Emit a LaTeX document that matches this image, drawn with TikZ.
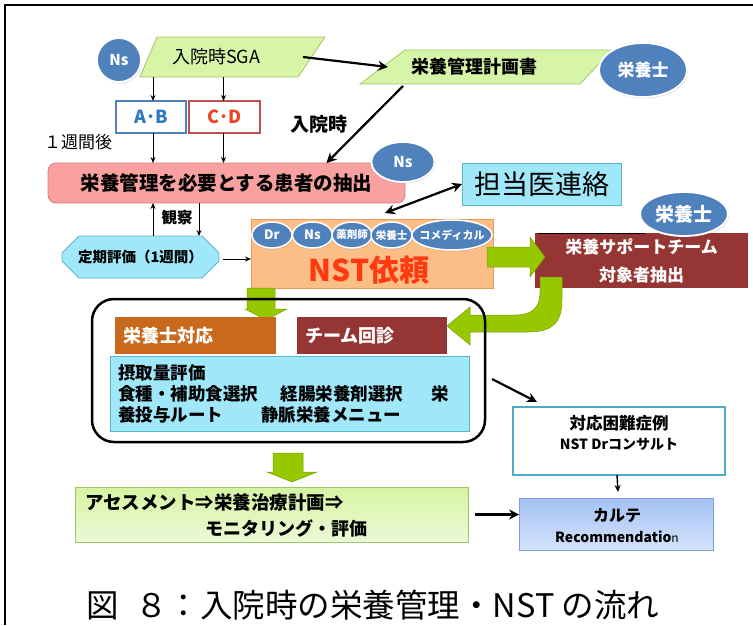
\documentclass[tikz,border=0pt]{standalone}
\usepackage{fontspec}
\setmainfont{Noto Sans CJK JP}
\usetikzlibrary{shapes.geometric,shapes.misc,shadows,arrows.meta}
\newcommand{\myfs}[1]{\fontsize{#1}{#1}\selectfont}
\definecolor{nsblue}{HTML}{4F81BD}
\definecolor{sgafill}{HTML}{D7F5A7}
\definecolor{sgaline}{HTML}{A3C46C}
\definecolor{pinkfill}{HTML}{F9A0A0}
\definecolor{pinkline}{HTML}{E07B7B}
\definecolor{cyanfill}{HTML}{A0E7FA}
\definecolor{cyanline}{HTML}{5BB5CC}
\definecolor{nstfill}{HTML}{FCBE87}
\definecolor{nstline}{HTML}{F39A50}
\definecolor{nsttext}{HTML}{FF3A10}
\definecolor{darkred}{HTML}{963634}
\definecolor{rdbrown}{HTML}{C8691D}
\definecolor{garrow}{HTML}{96C800}
\definecolor{abblue}{HTML}{2F78C4}
\definecolor{cdred}{HTML}{EE4422}
\definecolor{abline}{HTML}{4F81BD}
\definecolor{cdline}{HTML}{C0504D}
\definecolor{kartetop}{HTML}{A4C2F4}
\definecolor{kartebot}{HTML}{D4E2FA}
\definecolor{karteline}{HTML}{7B9FDB}
\definecolor{taiouline}{HTML}{4BACC6}
\definecolor{asstop}{HTML}{D5F4A2}
\definecolor{assbot}{HTML}{ECF9D6}
\tikzset{
  every node/.style={inner sep=0pt, outer sep=0pt},
  ell/.style={ellipse, fill=nsblue, draw=white, line width=1.8pt, text=white,
    drop shadow={opacity=0.25, shadow xshift=1pt, shadow yshift=-1.5pt}},
  elltext/.style={text=white, font=\bfseries\myfs{#1}},
  thinarr/.style={-{Stealth[length=6pt,width=5pt]}, line width=0.8pt},
  thickarr/.style={-{Stealth[length=10pt,width=10pt]}, line width=2.2pt},
  garr/.style={fill=garrow, draw=garrow!80!black, line width=0.5pt},
  colbox/.style={rectangle, text=white, font=\bfseries\myfs{18}, align=left, inner xsep=8pt},
}
\begin{document}
\begin{tikzpicture}[x=1pt,y=-1pt]
\useasboundingbox (0,0) rectangle (753,625);
% frame
\draw[line width=2.5pt] (5,625) -- (5,5) -- (753,5);

% SGA parallelogram
\filldraw[fill=sgafill, draw=sgaline, line width=0.8pt] (157,37) -- (325,37) -- (298,77) -- (140,77) -- cycle;
\node[minimum width=150pt, minimum height=40pt, font=\myfs{18}] (sga) at (216,57) {入院時SGA};
\node[ell, minimum width=44pt, minimum height=44pt, font=\bfseries\myfs{15}] (ns1) at (119,60) {Ns};

% plan parallelogram
\filldraw[fill=sgafill, draw=sgaline, line width=0.8pt] (405,50) -- (612,50) -- (580,84) -- (360,84) -- cycle;
\node[minimum width=200pt, minimum height=34pt, font=\bfseries\myfs{18}] (plan) at (474,67) {栄養管理計画書};
\node[ell, minimum width=88pt, minimum height=54pt, font=\bfseries\myfs{17}] (rd1) at (643,70) {栄養士};

\draw[thickarr] ([xshift=12pt]sga.east) -- ([xshift=14pt]plan.west);

% A-B / C-D
\node[rectangle, draw=abline, line width=1.3pt, fill=white, minimum width=70pt, minimum height=32pt, text=abblue, font=\bfseries\myfs{18}] (ab) at (151,117) {A･B};
\node[rectangle, draw=cdline, line width=1.3pt, fill=white, minimum width=71pt, minimum height=32pt, text=cdred, font=\bfseries\myfs{18}] (cd) at (224.5,117) {C･D};
\draw[thinarr] ([xshift=2pt]sga.south -| ab.north) -- ([xshift=2pt]ab.north);
\draw[thinarr] ([xshift=-1pt]sga.south -| cd.north) -- ([xshift=-1pt]cd.north);

\node[font=\myfs{17}] (wk) at (78,142) {１週間後};
\node[font=\bfseries\myfs{19}] (adm) at (319,124) {入院時};

% pink
\node[rectangle, rounded corners=8pt, fill=pinkfill, draw=pinkline, line width=0.8pt, minimum width=357pt, minimum height=40pt, font=\bfseries\myfs{19.5}] (pink) at (226.5,183) {栄養管理を必要とする患者の抽出};
\draw[thinarr] ([xshift=2pt]ab.south) -- ([xshift=2pt]ab.south |- pink.north);
\draw[thinarr] ([xshift=-1pt]cd.south) -- ([xshift=-1pt]cd.south |- pink.north);
\draw[thickarr] ([xshift=-71pt,yshift=-2pt]plan.south) -- ([xshift=100pt]pink.north);
\node[ell, minimum width=63pt, minimum height=40pt, font=\bfseries\myfs{15}] (ns2) at (403,162) {Ns};

% tanto
\node[rectangle, fill=cyanfill, draw=cyanline, line width=0.8pt, minimum width=159pt, minimum height=42pt, font=\myfs{27}] (tanto) at (541.5,184) {担当医連絡};
\coordinate (dblend) at (385,213);
\draw[{Stealth[length=10pt,width=10pt]}-{Stealth[length=10pt,width=10pt]}, line width=2.2pt] (dblend) -- (tanto.west);

% teiki
\node[chamfered rectangle, chamfered rectangle xsep=12pt, chamfered rectangle ysep=10pt, fill=cyanfill, draw=cyanline, line width=0.8pt, minimum width=157pt, minimum height=42pt, font=\bfseries\myfs{14.5}] (teiki) at (140.5,257) {定期評価（1週間）};
\coordinate (kx) at (199,0);
\draw[thinarr] ([xshift=2pt]teiki.north -| ab.south) -- ([xshift=2pt]pink.south -| ab.south);
\draw[thinarr] (pink.south -| kx) -- (teiki.north -| kx);
\node[font=\bfseries\myfs{15.5}] (kansatsu) at (177,218) {観察};

% NST
\node[rectangle, fill=nstfill, draw=nstline, line width=0.8pt, minimum width=242pt, minimum height=69pt] (nst) at (372,253.5) {};
\node[font=\bfseries\myfs{30}, text=nsttext] (nsttxt) at (369,270) {NST依頼};
\draw[thinarr] ([xshift=4pt,yshift=-2pt]teiki.east) -- ([yshift=-2pt]teiki.east -| nst.west);
\node[ell, line width=1.5pt, minimum width=40pt, minimum height=26pt] (dr) at (272,235) {};
\node[elltext=13] (drt) at (dr) {Dr};
\node[ell, line width=1.5pt, minimum width=40pt, minimum height=26pt] (nsm) at (312.5,235) {};
\node[elltext=13] (nsmt) at (nsm) {Ns};
\node[ell, line width=1.5pt, minimum width=40pt, minimum height=26pt] (yaku) at (352,235) {};
\node[elltext=10.5] (yakut) at (yaku) {薬剤師};
\node[ell, line width=1.5pt, minimum width=41pt, minimum height=26pt] (eiy) at (391.5,235) {};
\node[elltext=10.5] (eiyt) at (eiy) {栄養士};
\node[ell, line width=1.5pt, minimum width=80pt, minimum height=30pt] (como) at (452,235) {};
\node[elltext=11] (comot) at (como) {コメディカル};

% support team
\node[rectangle, fill=darkred, minimum width=213pt, minimum height=55pt, text=white, align=center, font=\bfseries\fontsize{17}{28}\selectfont] (shien) at (641.5,260.5) {栄養サポートチーム\\対象者抽出};
\draw[line width=0.8pt] ([xshift=3pt]shien.north west) -- ([xshift=110pt]shien.north west);
\node[ell, minimum width=88pt, minimum height=44pt, font=\bfseries\myfs{19}] (rd2) at (684,214) {栄養士};

% green block arrows
\filldraw[garr] (487,247) -- (530,247) -- (530,237) -- (545,257) -- (530,277) -- (530,267) -- (487,267) -- cycle;
\filldraw[garr] (247,288) -- (275,288) -- (275,309) -- (287,309) -- (266,320) -- (245,309) -- (247,309) -- cycle;
\filldraw[garr]
  (562,277) -- (562,300) .. controls (562,325) and (550,332) .. (528,332) -- (470,332) -- (470,345) -- (447,326)
  -- (470,307) -- (470,315) -- (515,315) .. controls (533,315) and (540,307) .. (540,292) -- (540,277) -- cycle;

% big rounded box
\node[rectangle, draw, line width=2.5pt, rounded corners=22pt, minimum width=393pt, minimum height=143pt] (big) at (288.5,370.5) {};
\node[colbox, fill=rdbrown, minimum width=161pt, minimum height=37pt, text width=145pt] (taiou) at (195.5,335.5) {栄養士対応};
\node[colbox, fill=darkred, minimum width=150pt, minimum height=37pt, text width=134pt] (kaishin) at (372,335.5) {チーム回診};
\node[rectangle, fill=cyanfill, draw=cyanline, line width=0.8pt, minimum width=359pt, minimum height=75pt, text width=343pt, inner xsep=8pt, align=left, font=\bfseries\fontsize{17.5}{21}\selectfont] (eval) at (289.5,393.5)
  {摂取量評価\\食種・補助食選択\hspace{1.3em}経腸栄養剤選択\hspace{1.6em}栄\\養投与ルート\hspace{2.2em}静脈栄養メニュー};

% konnan
\node[rectangle, fill=white, draw=taiouline, line width=1.2pt, minimum width=212pt, minimum height=68pt] (konnan) at (619,441) {};
\node[align=center, font=\bfseries\fontsize{16.5}{20}\selectfont] (konnant) at (619,433) {対応困難症例\\{\myfs{14}NST Drコンサルト}};
\draw[thickarr] ([xshift=7pt,yshift=-8.5pt]big.east) -- ([xshift=24pt,yshift=5pt]konnan.north west);

% karte
\node[rectangle, top color=kartetop, bottom color=kartebot, draw=karteline, line width=0.8pt, minimum width=194pt, minimum height=52pt] (karte) at (616,524) {};
\node[align=center, font=\bfseries\fontsize{16}{21}\selectfont] (kartet) at (617,525.5) {カルテ\\{\myfs{14}Recommendatio{\mdseries\myfs{12}n}}};
\draw[-{Stealth[length=7pt,width=6pt]}, line width=1.4pt] ([xshift=-2pt]konnan.south) -- ([xshift=2pt,yshift=6pt]karte.north);

% bottom green arrow + assessment
\filldraw[garr] (273,453) -- (303,453) -- (303,472) -- (317,472) -- (292,482) -- (267,472) -- (273,472) -- cycle;
\node[rectangle, top color=asstop, bottom color=assbot, draw=sgaline, line width=0.8pt, minimum width=393pt, minimum height=55pt] (assess) at (271.5,514.5) {};
\node[anchor=west, font=\bfseries\myfs{18.5}] (ass1) at (85,502) {アセスメント⇒栄養治療計画⇒};
\node[anchor=west, font=\bfseries\myfs{18}] (ass2) at (205,528) {モニタリング・評価};
\draw[thickarr] ([xshift=7pt]assess.east) -- (assess.east -| karte.west);

% caption
\node[font=\myfs{32.5}] (cap) at (373,605) {図\hspace{0.5em}８：入院時の栄養管理・NST の流れ};
\end{tikzpicture}
\end{document}
